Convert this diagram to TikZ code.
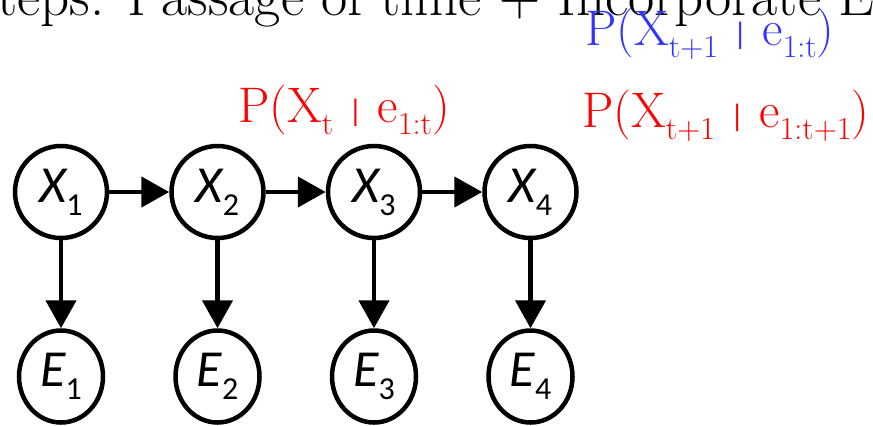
\documentclass[tikz,border=0pt]{standalone}
\usepackage{fontspec}
\usepackage{tikz}
\usetikzlibrary{arrows.meta, positioning, shapes.geometric}
\newfontfamily\nodefont{Carlito}
\definecolor{probblue}{RGB}{51,51,255}
\definecolor{probred}{RGB}{255,0,0}
% variable name with subscript, as in the slide
\newcommand{\nv}[2]{{\nodefont\fontsize{52bp}{52bp}\selectfont\itshape #1\upshape\raisebox{-13bp}{\fontsize{32bp}{32bp}\selectfont #2}}}
\newcommand{\lsub}[1]{\raisebox{-12bp}{\fontsize{32bp}{32bp}\selectfont #1}}
\newcommand{\givenbar}{\raisebox{1bp}{\nodefont\fontsize{31bp}{31bp}\selectfont |}}

\begin{document}
\begin{tikzpicture}[
  x=1bp, y=-1bp,
  node distance=88bp and 60bp,
  xnode/.style={circle, draw, line width=4.5bp, minimum size=92bp, inner sep=0pt},
  enode/.style={ellipse, draw, line width=4.5bp, minimum width=84bp, minimum height=92bp, inner sep=0pt},
  prob/.style={anchor=base west, inner sep=0pt, font=\fontsize{50bp}{50bp}\selectfont},
  arr/.style={-{Triangle[length=28bp, width=30bp]}, line width=4.5bp}
]
\useasboundingbox (0,0) rectangle (873,425);
\node[anchor=base west, inner sep=0pt, font=\fontsize{57bp}{57bp}\selectfont] (title) at (-3,15) {teps: Passage of time + Incorporate E};
\node[xnode] (x1) at (61,192) {\nv{X}{1}};
\node[xnode, right=of x1] (x2) {\nv{X}{2}};
\node[xnode, right=of x2] (x3) {\nv{X}{3}};
\node[xnode, right=of x3] (x4) {\nv{X}{4}};
\node[enode, below=of x1] (e1) {\nv{E}{1}};
\node[enode, below=of x2] (e2) {\nv{E}{2}};
\node[enode, below=of x3] (e3) {\nv{E}{3}};
\node[enode, below=of x4] (e4) {\nv{E}{4}};
\node[prob, text=probred] (filt) at (238,122) {P(X\lsub{t} \givenbar{} e\lsub{1:t})};
\node[prob, text=probblue] (pred) at (585,45) {P(X\lsub{t+1} \givenbar{} e\lsub{1:t})};
\node[prob, text=probred] (upd) at (582,127) {P(X\lsub{t+1} \givenbar{} e\lsub{1:t+1})};
\draw[arr] (x1)--(x2); \draw[arr] (x2)--(x3); \draw[arr] (x3)--(x4);
\draw[arr] (x1)--(e1); \draw[arr] (x2)--(e2); \draw[arr] (x3)--(e3); \draw[arr] (x4)--(e4);
\end{tikzpicture}
\end{document}
